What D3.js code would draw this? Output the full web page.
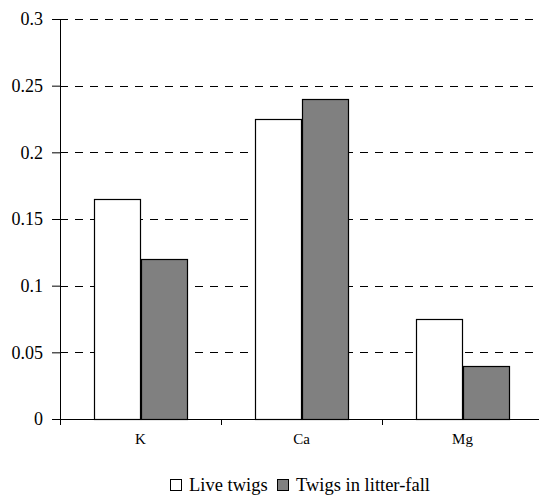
<!DOCTYPE html>
<html>
<head>
<meta charset="utf-8">
<script src="https://cdn.jsdelivr.net/npm/d3@7"></script>
<style>
  body { margin: 0; background: #fff; }
  svg { display: block; }
  svg text { font-family: "Liberation Serif", "DejaVu Serif", serif; }
</style>
</head>
<body>
<div id="chart"></div>
<script>
// values
const elements = ["K", "Ca", "Mg"];
const seriesNames = ["Live twigs", "Twigs in litter-fall"];
const liveTwigs = [0.165, 0.225, 0.075];
const litterTwigs = [0.12, 0.24, 0.04];
const yTicks = [0, 0.05, 0.1, 0.15, 0.2, 0.25, 0.3];
const yTickLabels = ["0", "0.05", "0.1", "0.15", "0.2", "0.25", "0.3"];

const width = 539;
const height = 495;
const margin = { top: 19, right: -4, bottom: 76, left: 60 };
const colors = ["#ffffff", "#808080"];
const serif = "'Liberation Serif', 'DejaVu Serif', serif";

const svg = d3.select("#chart")
    .append("svg")
    .attr("width", width)
    .attr("height", height);

const plotW = width - margin.left - margin.right;
const plotH = height - margin.top - margin.bottom;

const g = svg.append("g")
    .attr("transform", "translate(" + margin.left + "," + margin.top + ")");

const x = d3.scaleBand()
    .domain(elements)
    .range([0, plotW]);

const x1 = d3.scaleBand()
    .domain(seriesNames)
    .range([0, x.bandwidth()])
    .paddingOuter(0.74);

const y = d3.scaleLinear()
    .domain([0, 0.3])
    .range([plotH, 0]);

// dashed gridlines
g.selectAll(".grid")
    .data(yTicks.filter(d => d > 0))
    .enter().append("line")
    .attr("x1", 0)
    .attr("x2", width - margin.left - 1)
    .attr("y1", d => Math.round(y(d)) + 0.5)
    .attr("y2", d => Math.round(y(d)) + 0.5)
    .attr("stroke", "#000")
    .attr("stroke-dasharray", "8,7");

// bars
const rows = elements.map((e, i) => ({ name: e, vals: [liveTwigs[i], litterTwigs[i]] }));

const groups = g.selectAll(".grp")
    .data(rows)
    .enter().append("g")
    .attr("transform", d => "translate(" + x(d.name) + ",0)");

groups.selectAll("rect")
    .data(d => d.vals.map((v, j) => ({ s: seriesNames[j], v: v, j: j })))
    .enter().append("rect")
    .attr("x", d => Math.round(x1(d.s)) + 0.5)
    .attr("y", d => Math.round(y(d.v)) + 0.5)
    .attr("width", Math.round(x1.bandwidth()))
    .attr("height", d => Math.round(plotH) - Math.round(y(d.v)))
    .attr("fill", d => colors[d.j])
    .attr("stroke", "#000")
    .attr("stroke-width", 1.2);

// y axis
const yAxis = g.append("g")
    .call(d3.axisLeft(y)
        .tickValues(yTicks)
        .tickFormat((d, i) => yTickLabels[i])
        .tickSize(8)
        .tickSizeOuter(0)
        .tickPadding(9));
yAxis.attr("font-family", serif);
yAxis.selectAll("text")
    .attr("font-size", 18)
    .attr("fill", "#000");
yAxis.selectAll("line, path").attr("stroke", "#000");

// x axis
const xAxis = g.append("g")
    .attr("transform", "translate(0," + plotH + ")")
    .call(d3.axisBottom(x).tickSize(0).tickPadding(14));
xAxis.attr("font-family", serif);
xAxis.select(".domain").attr("stroke", "#000");
xAxis.selectAll("text")
    .attr("font-size", 15)
    .attr("fill", "#000");

// category boundary ticks
g.selectAll(".xtick")
    .data(elements)
    .enter().append("line")
    .attr("x1", d => Math.round(x(d)) + 0.5)
    .attr("x2", d => Math.round(x(d)) + 0.5)
    .attr("y1", plotH)
    .attr("y2", plotH + 6)
    .attr("stroke", "#000");

// legend
const legend = svg.append("g")
    .attr("transform", "translate(170,479)")
    .attr("font-family", serif);

const legendX = [0, 107];
seriesNames.forEach((s, i) => {
    const item = legend.append("g")
        .attr("transform", "translate(" + legendX[i] + ",0)");
    item.append("rect")
        .attr("x", 0.5)
        .attr("y", 0.5)
        .attr("width", 11)
        .attr("height", 11)
        .attr("fill", colors[i])
        .attr("stroke", "#000");
    item.append("text")
        .attr("x", 19)
        .attr("y", 12)
        .attr("font-size", 18.5)
        .text(s);
});
</script>
</body>
</html>
